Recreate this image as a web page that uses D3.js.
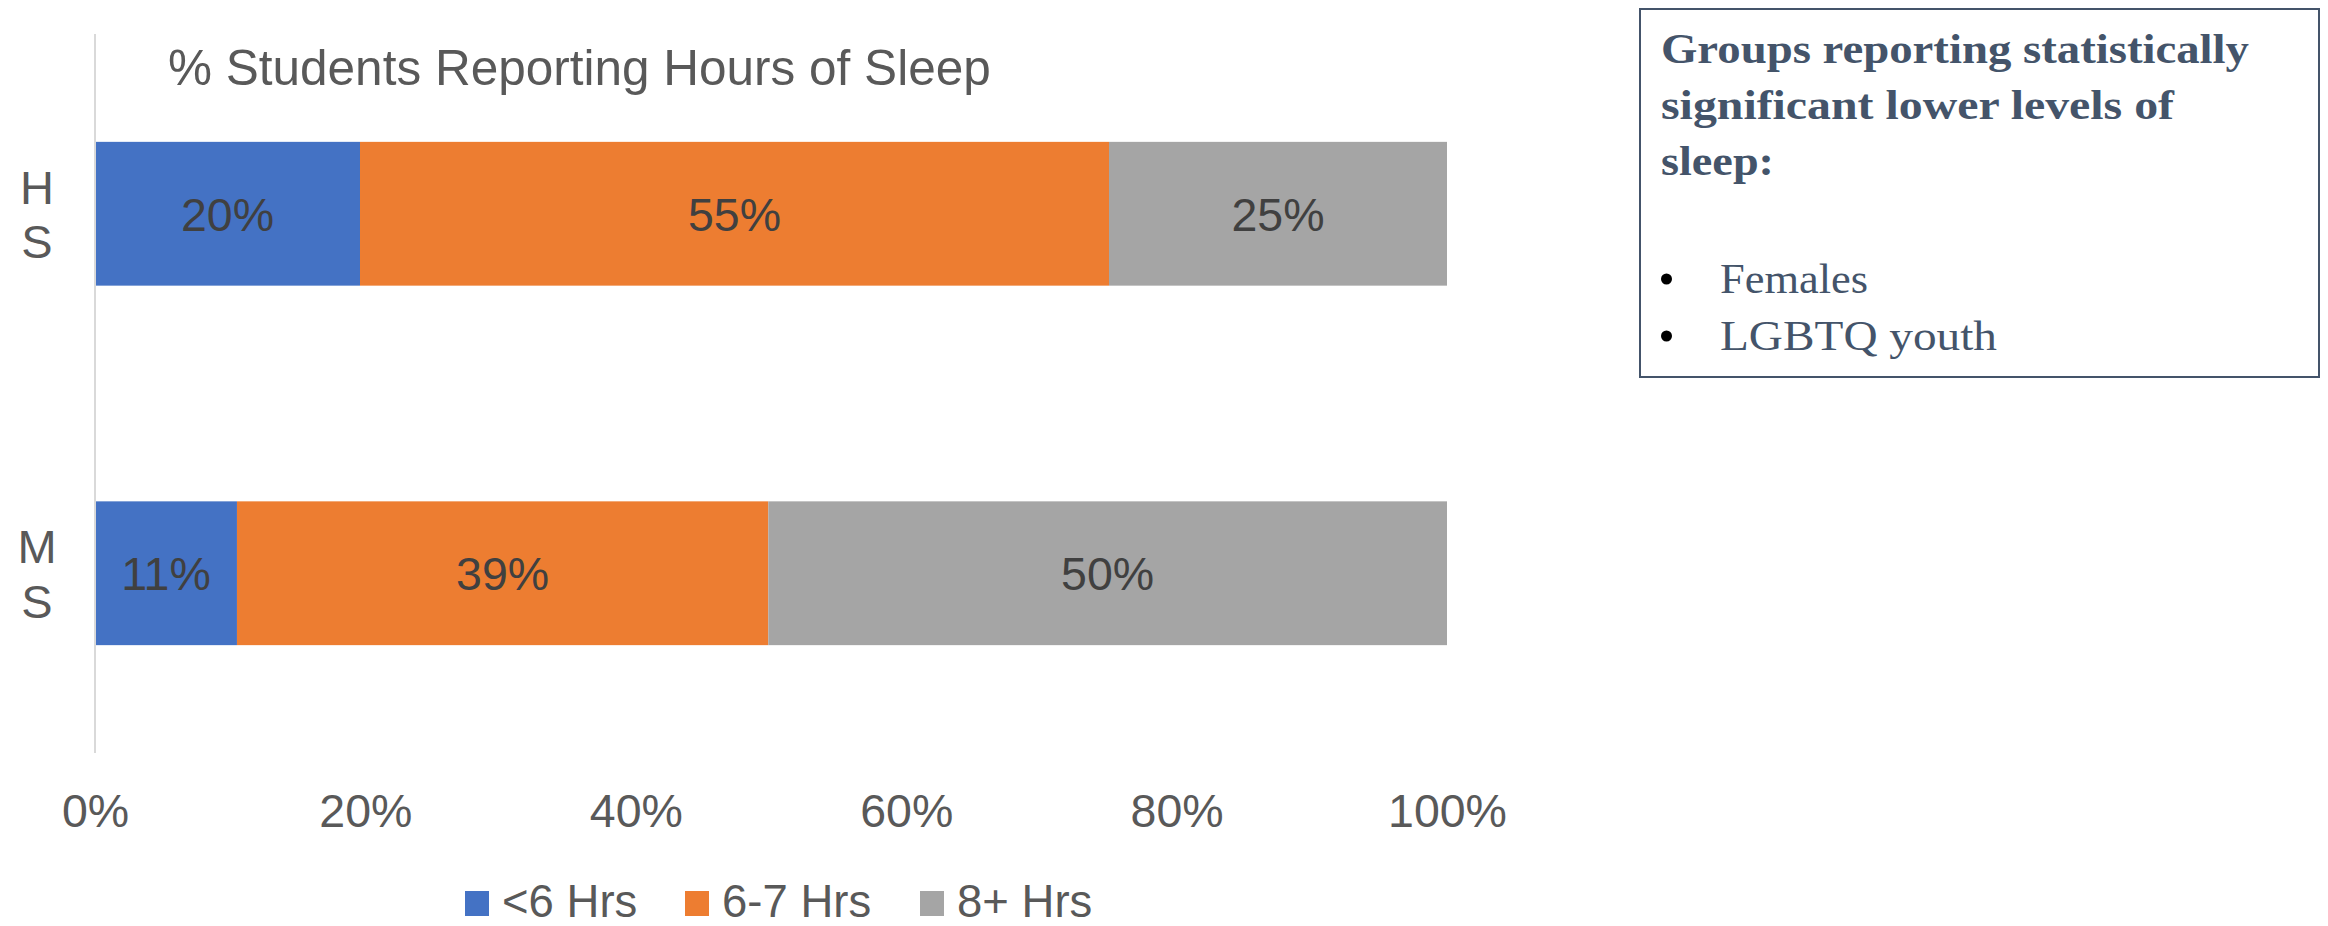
<!DOCTYPE html>
<html>
<head>
<meta charset="utf-8">
<script src="https://cdn.jsdelivr.net/npm/d3@7"></script>
<style>
  html, body { margin: 0; padding: 0; background: #ffffff; }
  svg { display: block; }
</style>
</head>
<body>
<svg id="chart" width="2328" height="926"></svg>
<script>
// ---- data ----
const categories = ["HS", "MS"];
const categoryLabels = [["H", "S"], ["M", "S"]];
const seriesNames = ["<6 Hrs", "6-7 Hrs", "8+ Hrs"];
const seriesColors = ["#4472C4", "#ED7D31", "#A5A5A5"];
const lessThan6 = [0.196, 0.105];
const sixToSeven = [0.554, 0.393];
const eightPlus = [0.250, 0.502];
const labelsLessThan6 = ["20%", "11%"];
const labelsSixToSeven = ["55%", "39%"];
const labelsEightPlus = ["25%", "50%"];
const tickValues = [0, 0.2, 0.4, 0.6, 0.8, 1.0];
const chartTitle = "% Students Reporting Hours of Sleep";
const boxHeading = ["Groups reporting statistically", "significant lower levels of", "sleep:"];
const boxBullets = ["Females", "LGBTQ youth"];

// ---- layout ----
const svg = d3.select("#chart");
const plot = { left: 95, right: 1447, top: 34, bottom: 753 };
const FONT = "Arial, 'Liberation Sans', sans-serif";

const x = d3.scaleLinear().domain([0, 1]).range([plot.left, plot.right]);
const y = d3.scaleBand().domain(categories).range([plot.top, plot.bottom])
  .paddingInner(0.6).paddingOuter(0.3);

const seriesValues = [lessThan6, sixToSeven, eightPlus];
const seriesLabels = [labelsLessThan6, labelsSixToSeven, labelsEightPlus];

const rows = categories.map((c, i) => {
  const o = { cat: c };
  seriesNames.forEach((s, k) => { o[s] = seriesValues[k][i]; });
  return o;
});
const stacked = d3.stack().keys(seriesNames)(rows);

// bars
const gBars = svg.append("g");
stacked.forEach((layer, k) => {
  gBars.selectAll(null).data(layer).enter().append("rect")
    .attr("x", d => x(d[0]))
    .attr("y", d => y(d.data.cat))
    .attr("width", d => x(d[1]) - x(d[0]))
    .attr("height", y.bandwidth())
    .attr("fill", seriesColors[k]);
});

// data labels
stacked.forEach((layer, k) => {
  gBars.selectAll(null).data(layer).enter().append("text")
    .attr("x", d => (x(d[0]) + x(d[1])) / 2)
    .attr("y", d => y(d.data.cat) + y.bandwidth() / 2 + 17)
    .attr("text-anchor", "middle")
    .attr("font-family", FONT)
    .attr("font-size", 46.5)
    .attr("fill", "#404040")
    .text((d, i) => seriesLabels[k][i]);
});

// vertical category axis line
svg.append("line")
  .attr("x1", plot.left).attr("x2", plot.left)
  .attr("y1", plot.top).attr("y2", plot.bottom)
  .attr("stroke", "#D9D9D9").attr("stroke-width", 2);

// category labels (stacked letters)
categories.forEach((c, i) => {
  const cy = y(c) + y.bandwidth() / 2;
  const letters = categoryLabels[i];
  letters.forEach((ch, j) => {
    svg.append("text")
      .attr("x", 37)
      .attr("y", cy + (j - (letters.length - 1) / 2) * 54.5 + 17)
      .attr("text-anchor", "middle")
      .attr("font-family", FONT)
      .attr("font-size", 47)
      .attr("fill", "#595959")
      .text(ch);
  });
});

// x axis (labels only)
const xAxis = d3.axisBottom(x).tickValues(tickValues)
  .tickFormat(d3.format(".0%")).tickSize(0).tickPadding(0);
const gx = svg.append("g")
  .attr("transform", `translate(0, ${plot.bottom})`)
  .call(xAxis);
gx.select(".domain").remove();
gx.selectAll("text")
  .attr("font-family", FONT)
  .attr("font-size", 46.5)
  .attr("fill", "#595959")
  .attr("dy", null)
  .attr("y", 74);

// title
svg.append("text")
  .attr("x", 168).attr("y", 85)
  .attr("font-family", FONT)
  .attr("font-size", 49.5)
  .attr("fill", "#595959")
  .text(chartTitle);

// legend
const legendItems = [
  { name: seriesNames[0], color: seriesColors[0], sx: 465, tx: 502 },
  { name: seriesNames[1], color: seriesColors[1], sx: 685, tx: 722 },
  { name: seriesNames[2], color: seriesColors[2], sx: 920, tx: 957 }
];
const gLeg = svg.append("g");
legendItems.forEach(it => {
  gLeg.append("rect").attr("x", it.sx).attr("y", 891)
    .attr("width", 24).attr("height", 25).attr("fill", it.color);
  gLeg.append("text").attr("x", it.tx).attr("y", 917)
    .attr("font-family", FONT).attr("font-size", 45.5)
    .attr("fill", "#595959").text(it.name);
});

// text box
const SERIF = "'Liberation Serif', 'DejaVu Serif', serif";
const box = svg.append("g");
box.append("rect")
  .attr("x", 1640).attr("y", 9).attr("width", 679).attr("height", 368)
  .attr("fill", "#ffffff").attr("stroke", "#44546A").attr("stroke-width", 2);
const headingWidths = [588, 513, 113];
boxHeading.forEach((line, i) => {
  box.append("text")
    .attr("x", 1661).attr("y", 63 + i * 56)
    .attr("font-family", SERIF).attr("font-weight", "bold")
    .attr("font-size", 43).attr("fill", "#44546A")
    .attr("textLength", headingWidths[i]).attr("lengthAdjust", "spacingAndGlyphs")
    .text(line);
});
const bulletWidths = [148, 277];
boxBullets.forEach((b, i) => {
  const by = 293 + i * 57;
  box.append("circle").attr("cx", 1666.5).attr("cy", by - 14).attr("r", 5.5).attr("fill", "#000000");
  box.append("text")
    .attr("x", 1720).attr("y", by)
    .attr("font-family", SERIF).attr("font-size", 42).attr("fill", "#44546A")
    .attr("textLength", bulletWidths[i]).attr("lengthAdjust", "spacingAndGlyphs")
    .text(b);
});
</script>
</body>
</html>
